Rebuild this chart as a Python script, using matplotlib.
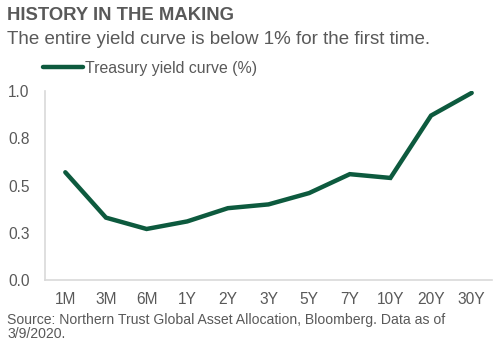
import matplotlib
matplotlib.use("Agg")
import matplotlib.pyplot as plt
from matplotlib.ticker import FuncFormatter

plt.rcParams['font.family'] = ['Liberation Sans', 'DejaVu Sans']

tenors = ["1M", "3M", "6M", "1Y", "2Y", "3Y", "5Y", "7Y", "10Y", "20Y", "30Y"]
yields = [0.57, 0.33, 0.27, 0.31, 0.38, 0.40, 0.46, 0.56, 0.54, 0.87, 0.99]
y_ticks = [0.0, 0.25, 0.5, 0.75, 1.0]

TEXT = "#595959"
GREEN = "#0d5a3e"
SPINE = "#d9d9d9"

W, H = 500, 346
fig = plt.figure(figsize=(W / 100, H / 100), dpi=100)
ax = fig.add_axes([45 / W, 1 - 280 / H, (492 - 45) / W, (280 - 91) / H])

x = list(range(len(tenors)))
line, = ax.plot(x, yields, color=GREEN, lw=3.2, solid_capstyle="round",
                solid_joinstyle="miter", label="Treasury yield curve (%)")

ax.set_xlim(-0.5, len(tenors) - 0.5)
ax.set_ylim(0, 1.0)
ax.set_xticks(x)
ax.set_xticklabels(tenors)
ax.set_yticks(y_ticks)
ax.yaxis.set_major_formatter(FuncFormatter(lambda v, p: f"{v + 1e-9:.1f}"))
ax.tick_params(length=0, labelsize=11.2, colors=TEXT, pad=9)
ax.tick_params(axis="y", pad=11)

for s in ("top", "right"):
    ax.spines[s].set_visible(False)
for s in ("left", "bottom"):
    ax.spines[s].set_color(SPINE)
    ax.spines[s].set_linewidth(1.2)

fig.legend(handles=[line], loc="center left", bbox_to_anchor=(43 / W, 1 - 68 / H),
           frameon=False, fontsize=11.4, handlelength=2.5, handletextpad=0.15,
           labelcolor=TEXT, borderpad=0, borderaxespad=0)

fig.text(7 / W, 1 - 15 / H, "HISTORY IN THE MAKING", fontsize=13.3,
         fontweight="bold", color=TEXT, va="center", ha="left")
fig.text(7 / W, 1 - 40 / H, "The entire yield curve is below 1% for the first time.",
         fontsize=13.5, color=TEXT, va="center", ha="left")
fig.text(7 / W, 1 - 327 / H,
         "Source: Northern Trust Global Asset Allocation, Bloomberg. Data as of\n3/9/2020.",
         fontsize=10.1, color=TEXT, va="center", ha="left", linespacing=1.05)

fig.savefig("out.png", dpi=100, facecolor="white")
